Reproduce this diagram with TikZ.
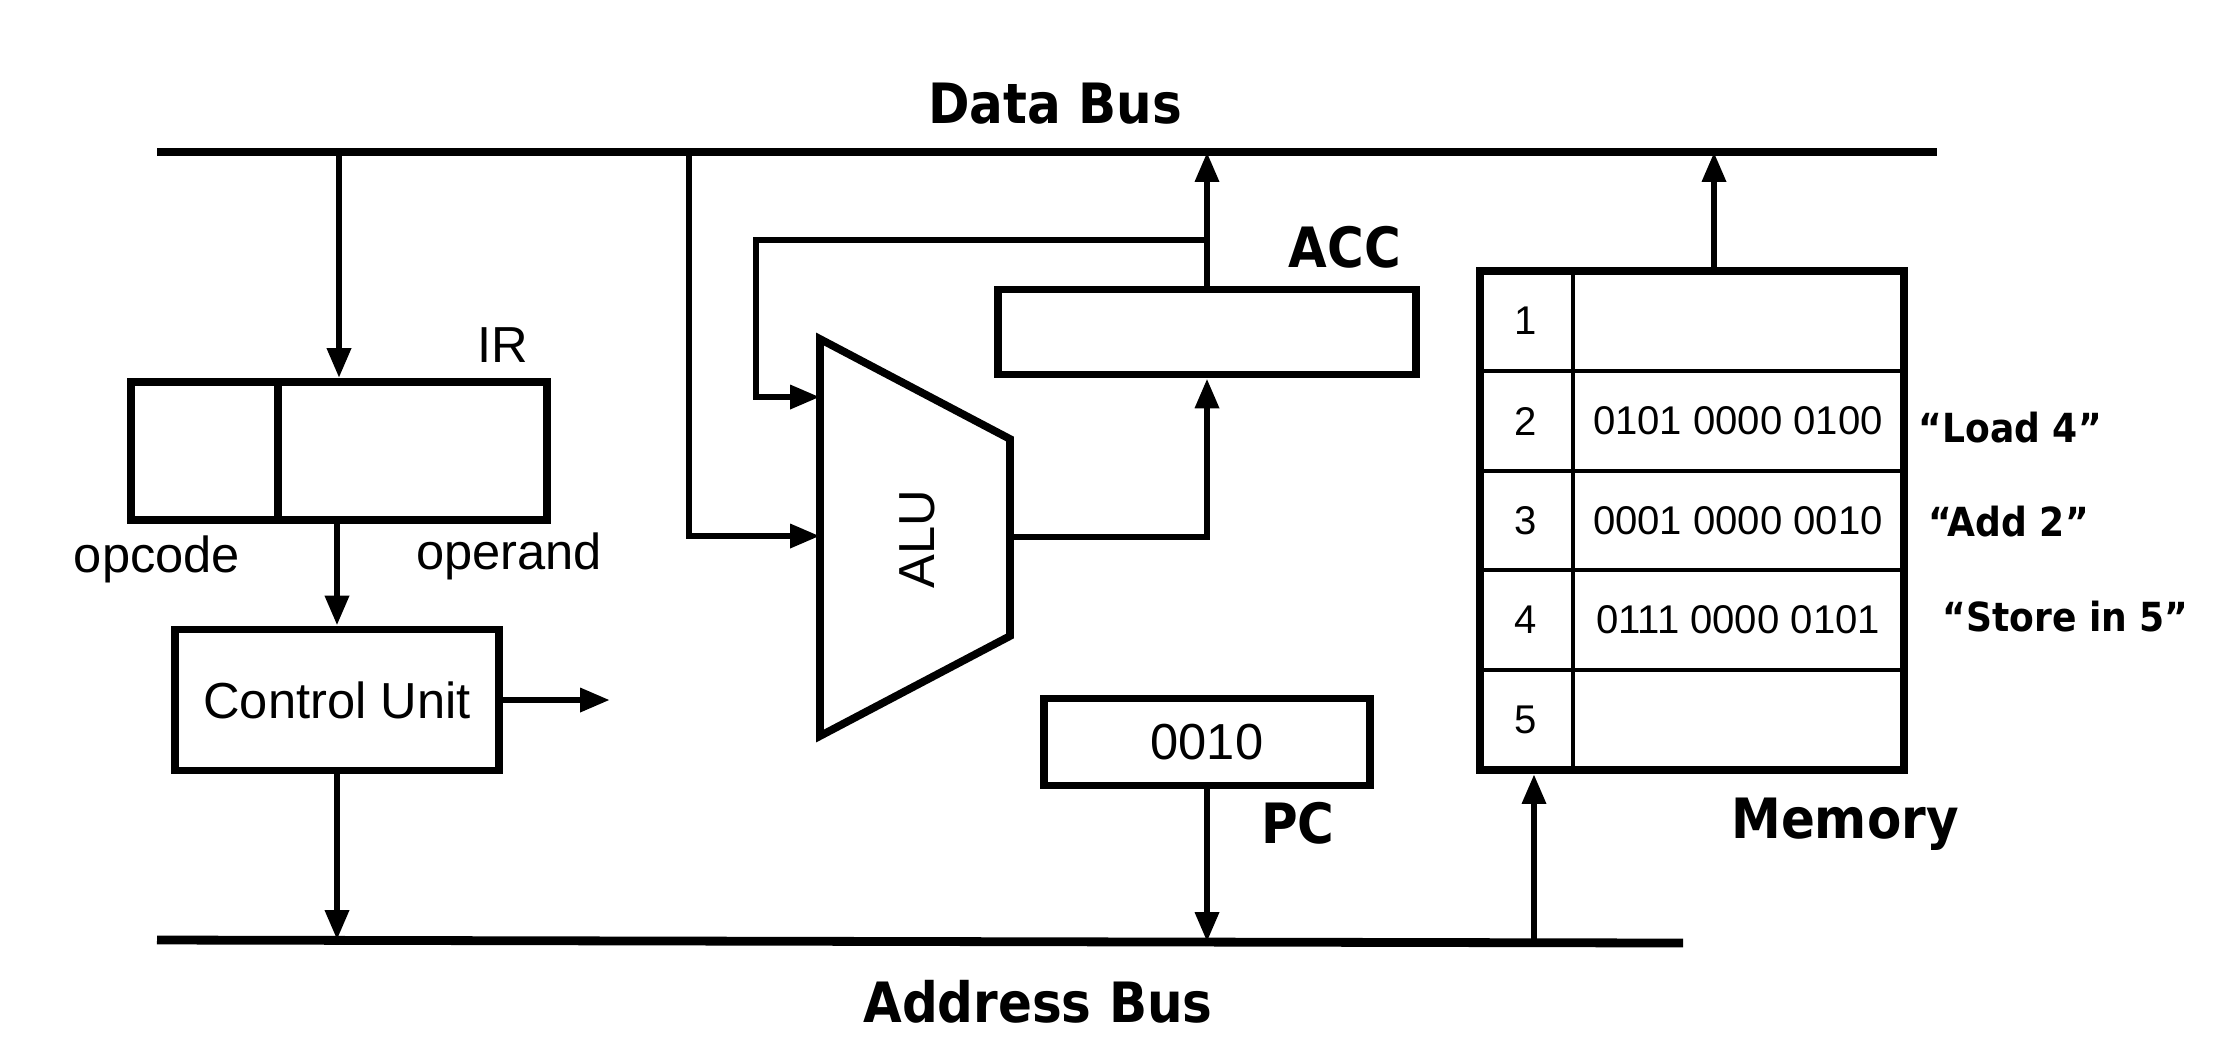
\documentclass[tikz,border=0pt]{standalone}
\usepackage{fontspec}
\setmainfont{Liberation Sans}
\newfontfamily\boldlab[FakeStretch=0.9]{DejaVu Sans}
\usetikzlibrary{arrows.meta}
\tikzset{
  box/.style={draw, line width=2.2pt, inner sep=0pt},
  bus/.style={line width=2.5pt},
  wire/.style={line width=1.9pt},
  arr/.style={wire, -{Triangle[length=8.5pt,width=6.5pt]}},
  txt/.style={font=\fontsize{14.4}{16}\selectfont, inner sep=0pt},
  memtxt/.style={font=\fontsize{11.4}{13}\selectfont, inner sep=0pt},
  lab/.style={font=\boldlab\bfseries\fontsize{15.8}{18}\selectfont, inner sep=0pt},
  qlab/.style={font=\boldlab\bfseries\fontsize{11.4}{13}\selectfont, inner sep=0pt},
}
\begin{document}
\begin{tikzpicture}[x=0.01cm, y=-0.01cm, line join=miter]
\useasboundingbox (0,0) rectangle (2236,1038);
% buses
\coordinate (dbL) at (157,152);
\coordinate (dbR) at (1937,152);
\coordinate (abL) at (157,940);
\coordinate (abR) at (1683,943);
\draw[bus] (dbL) -- (dbR);
\draw[bus] (abL) -- (abR);
\node[lab] (dblabel) at (1055,104) {Data Bus};
\node[lab] (ablabel) at (1038,1002) {Address Bus};
% IR
\node[box, minimum width=4.16cm, minimum height=1.38cm] (ir) at (339,451) {};
\draw[line width=2.2pt] (278,382) -- (278,520);
\node[txt] (irlabel) at (503,345) {IR};
\node[txt] (opcode) at (157,559) {opcode};
\node[txt] (operand) at (509,556) {operand};
% Control unit
\node[box, txt, minimum width=3.24cm, minimum height=1.41cm] (cu) at (337,700) {Control Unit};
\coordinate (cuout) at (610,700);
\coordinate (abCU) at (337,940);
\draw[arr] (ir.north |- dbL) -- (ir.north);
\draw[arr] (cu.north |- ir.south) -- (cu.north);
\draw[arr] (cu.east) -- (cuout);
\draw[arr] (cu.south) -- (abCU);
% ALU
\coordinate (a1) at (820,339);
\coordinate (a2) at (1010,439);
\coordinate (a3) at (1010,636);
\coordinate (a4) at (820,736);
\draw[line width=2.2pt] (a1) -- (a2) -- (a3) -- (a4) -- cycle;
\node[txt, rotate=90] (alu) at (917,539) {ALU};
\coordinate (aluin1) at (820,397);
\coordinate (aluin2) at (820,536);
\coordinate (aluout) at (1010,537);
% ACC
\node[box, minimum width=4.18cm, minimum height=0.85cm] (acc) at (1207,332) {};
\node[lab] (acclabel) at (1345,247) {ACC};
\coordinate (dbA) at (689,152);
\coordinate (fbR) at (1207,240);
\coordinate (fbL) at (756,240);
\draw[arr] (dbA) |- (aluin2);
\draw[arr] (fbR) -- (fbL) |- (aluin1);
\draw[arr] (acc.north) -- (acc.north |- dbL);
\draw[arr] (aluout) -| (acc.south);
% PC
\node[box, txt, minimum width=3.26cm, minimum height=0.87cm] (pc) at (1207,742) {0010};
\node[lab] (pclabel) at (1298,823) {PC};
\coordinate (abPC) at (1207,942);
\draw[arr] (pc.south) -- (abPC);
% Memory
\node[box, minimum width=4.24cm, minimum height=4.99cm] (mem) at (1692,520.5) {};
\draw[line width=1.1pt] (1573,271) -- (1573,770);
\foreach \k in {1,...,4} {
  \draw[line width=1.1pt] (1480,{271+99.8*\k}) -- (1904,{271+99.8*\k});
}
\node[memtxt] (m1) at (1526,321) {1};
\node[memtxt] (m2) at (1526,421) {2};
\node[memtxt] (m3) at (1526,520.5) {3};
\node[memtxt] (m4) at (1526,620) {4};
\node[memtxt] (m5) at (1526,720) {5};
\node[memtxt] (v2) at (1738,421) {0101 0000 0100};
\node[memtxt] (v3) at (1738,520.5) {0001 0000 0010};
\node[memtxt] (v4) at (1738,620) {0111 0000 0101};
\node[qlab, anchor=west] (q2) at (1918,428) {“Load 4”};
\node[qlab, anchor=west] (q3) at (1928,522) {“Add 2”};
\node[qlab, anchor=west] (q4) at (1942,617) {“Store in 5”};
\node[lab] (memlabel) at (1845,824) {Memory};
\coordinate (abM) at (1534,942);
\coordinate (dbM) at (1714,152);
\draw[arr] (abM) -- (abM |- mem.south);
\draw[arr] (dbM |- mem.north) -- (dbM);
\end{tikzpicture}
\end{document}
